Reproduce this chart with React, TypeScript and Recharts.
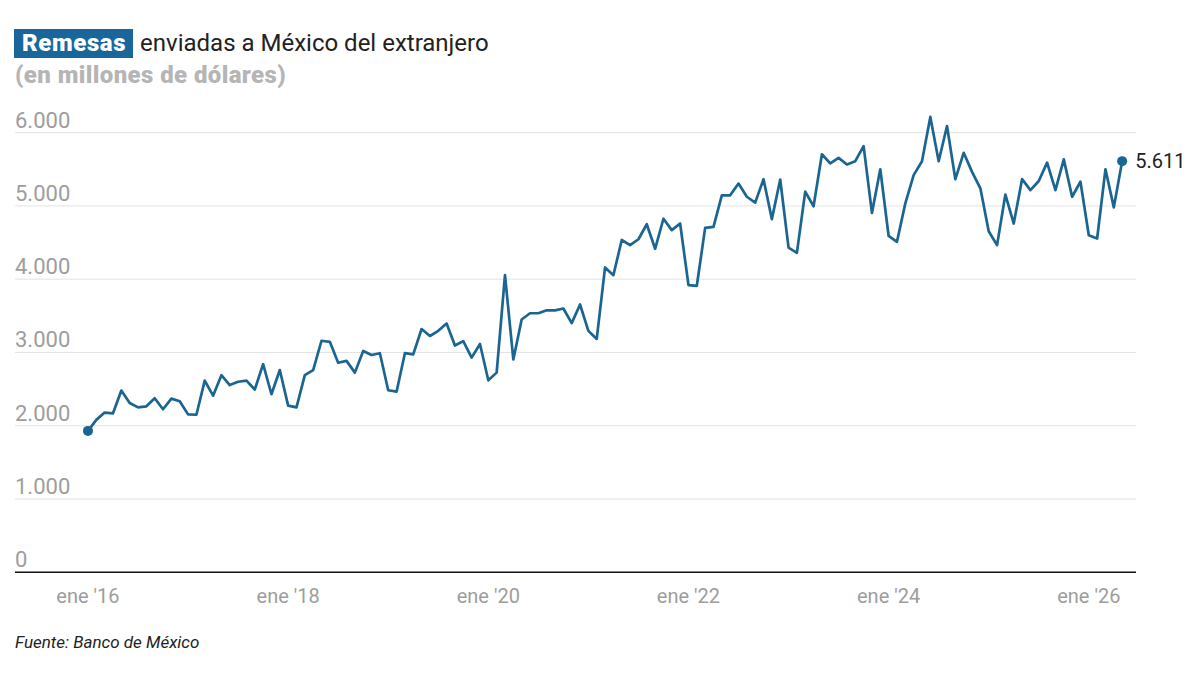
import { LineChart, Line, XAxis, YAxis, CartesianGrid } from "recharts";

// Remesas mensuales, millones de dólares (ene 2016 - may 2026)
const y2016 = [1930, 2080, 2180, 2170, 2480, 2310, 2250, 2265, 2375, 2225, 2370, 2335];
const y2017 = [2155, 2150, 2615, 2410, 2690, 2555, 2600, 2615, 2495, 2840, 2430, 2760];
const y2018 = [2275, 2250, 2690, 2760, 3160, 3145, 2860, 2885, 2725, 3020, 2965, 2990];
const y2019 = [2485, 2465, 2990, 2975, 3320, 3225, 3295, 3395, 3095, 3155, 2930, 3115];
const y2020 = [2620, 2725, 4055, 2905, 3450, 3535, 3535, 3575, 3575, 3600, 3400, 3655];
const y2021 = [3295, 3185, 4160, 4055, 4535, 4465, 4545, 4750, 4415, 4825, 4670, 4760];
const y2022 = [3920, 3910, 4700, 4715, 5145, 5145, 5305, 5125, 5045, 5365, 4820, 5360];
const y2023 = [4430, 4360, 5195, 4995, 5705, 5580, 5655, 5565, 5610, 5815, 4905, 5500];
const y2024 = [4590, 4510, 5035, 5420, 5610, 6215, 5610, 6090, 5365, 5725, 5465, 5240];
const y2025 = [4655, 4465, 5155, 4760, 5365, 5215, 5340, 5590, 5215, 5635, 5125, 5330];
const y2026 = [4600, 4555, 5500, 4980, 5611];

const values = [
  ...y2016, ...y2017, ...y2018, ...y2019, ...y2020, ...y2021,
  ...y2022, ...y2023, ...y2024, ...y2025, ...y2026,
];

const xTicks = [0, 24, 48, 72, 96, 120];
const xTickLabels = ["ene '16", "ene '18", "ene '20", "ene '22", "ene '24", "ene '26"];
const yTicks = [0, 1000, 2000, 3000, 4000, 5000, 6000];

const data = values.map((v, i) => ({ i, v }));

const BLUE = "#1b6592";
const FONT = "Roboto, 'Liberation Sans', sans-serif";

const fmt = (n: number) => n.toLocaleString("de-DE");

function YTick(props: any) {
  const { y, payload } = props;
  return (
    <text x={15} y={y - 5} fill="#9d9d9d" fontSize={22} fontFamily={FONT} textAnchor="start">
      {fmt(payload.value)}
    </text>
  );
}

function XTick(props: any) {
  const { x, y, payload } = props;
  const idx = xTicks.indexOf(payload.value);
  return (
    <text x={x} y={y + 23} fill="#9d9d9d" fontSize={20} fontFamily={FONT} textAnchor="middle">
      {xTickLabels[idx]}
    </text>
  );
}

function EndDot(props: any) {
  const { cx, cy, index, payload } = props;
  const last = values.length - 1;
  if (index !== 0 && index !== last) return <g key={index} />;
  return (
    <g key={index}>
      <circle cx={cx} cy={cy} r={5} fill={BLUE} />
      {index === last && (
        <text x={cx + 13} y={cy + 7} fontSize={20} fill="#222" fontFamily={FONT}>
          {fmt(payload.v)}
        </text>
      )}
    </g>
  );
}

export default function App() {
  return (
    <div style={{ position: "absolute", left: 0, top: 0, width: 1200, height: 675, background: "#fff", fontFamily: FONT }}>
      <div style={{ position: "absolute", left: 14, top: 29, display: "flex", alignItems: "center", fontSize: 24, lineHeight: "29px" }}>
        <span style={{ background: "#19679a", color: "#fff", fontWeight: 900, padding: "0 7px 0 8px", letterSpacing: 0.6 }}>Remesas</span>
        <span style={{ color: "#222", marginLeft: 7 }}>enviadas a México del extranjero</span>
      </div>
      <div style={{ position: "absolute", left: 15, top: 61, fontSize: 24, fontWeight: 900, color: "#b5b5b5", letterSpacing: 0.4 }}>
        (en millones de dólares)
      </div>
      <div style={{ position: "absolute", left: 0, top: 0 }}>
        <LineChart width={1200} height={675} data={data} margin={{ top: 96, right: 64, left: 5, bottom: 62.7 }}>
          <CartesianGrid horizontal vertical={false} horizontalValues={yTicks} stroke="#e3e3e3" strokeWidth={1} />
          <XAxis
            type="number"
            dataKey="i"
            domain={[-8.75, 125.66]}
            ticks={xTicks}
            tick={<XTick />}
            tickLine={false}
            axisLine={{ stroke: "#111", strokeWidth: 1.5 }}
            height={40}
          />
          <YAxis
            type="number"
            domain={[0, 6500]}
            ticks={yTicks}
            tick={<YTick />}
            tickLine={false}
            axisLine={false}
            width={10}
          />
          <Line
            type="linear"
            dataKey="v"
            stroke={BLUE}
            strokeWidth={2.7}
            strokeLinejoin="round"
            dot={<EndDot />}
            activeDot={false}
            isAnimationActive={false}
          />
        </LineChart>
      </div>
      <div style={{ position: "absolute", left: 15, top: 632, fontSize: 17, fontStyle: "italic", color: "#222" }}>
        Fuente: Banco de México
      </div>
    </div>
  );
}
